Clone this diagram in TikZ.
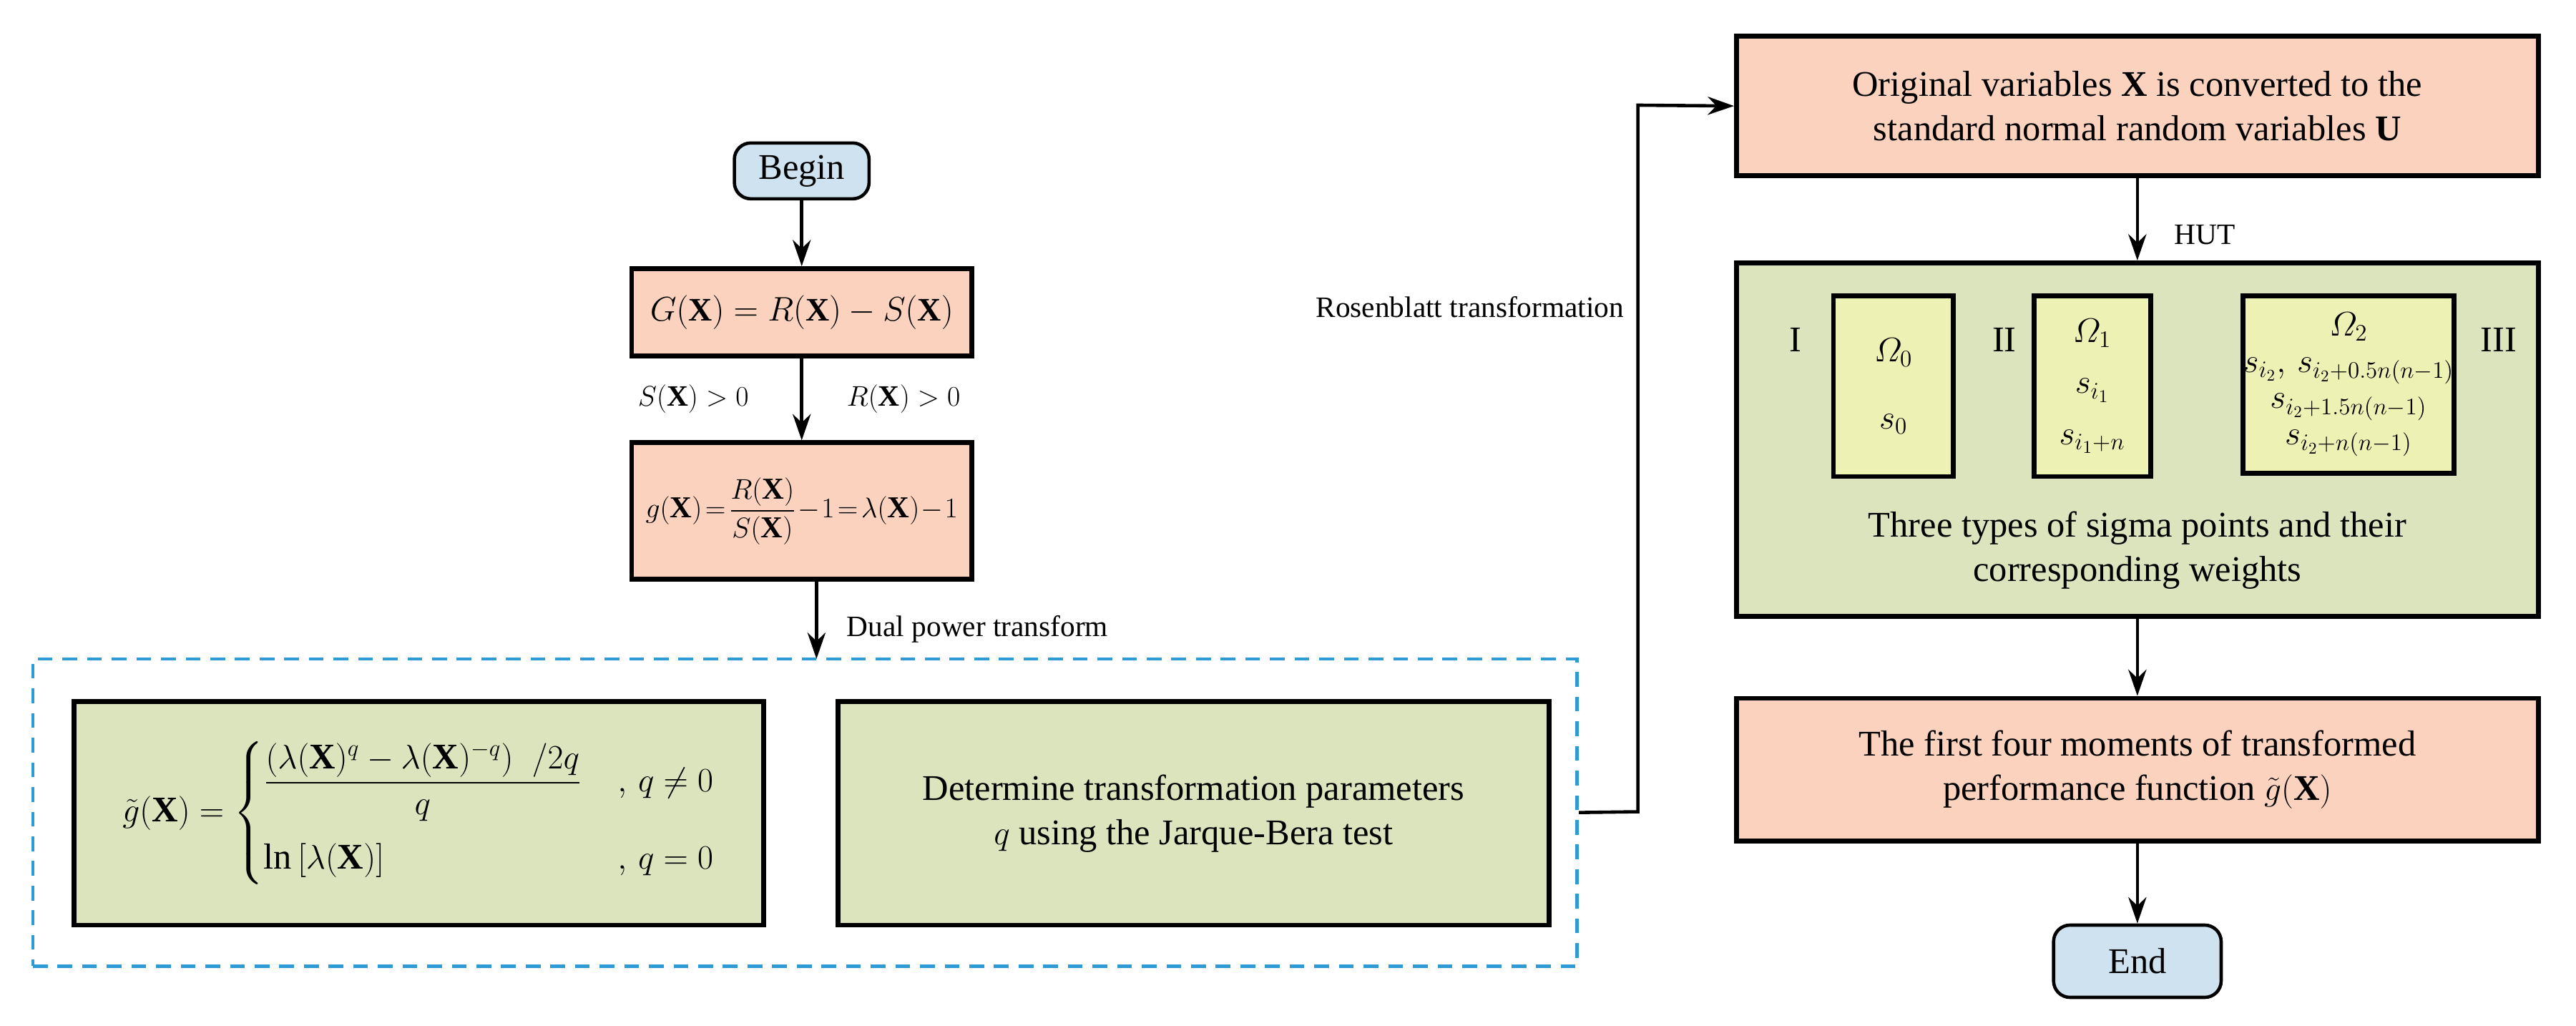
\documentclass[tikz,border=0pt]{standalone}
\usepackage{amsmath}
\usepackage{fontspec}
\setmainfont{Liberation Serif}
\usetikzlibrary{arrows.meta}
\definecolor{org}{HTML}{FAD2BE}
\definecolor{grn}{HTML}{DCE4BE}
\definecolor{ylw}{HTML}{EEF1B4}
\definecolor{blu}{HTML}{CFE2F0}
\definecolor{dash}{HTML}{2E9BD6}
\begin{document}
\begin{tikzpicture}[x=1pt,y=-1pt,
  font=\fontsize{22}{27}\selectfont,
  box/.style={draw,line width=3pt,align=center,inner sep=0pt},
  ob/.style={box,fill=org},
  gb/.style={box,fill=grn},
  yb/.style={box,fill=ylw},
  term/.style={draw,line width=2pt,rounded corners=10pt,fill=blu,align=center},
  arr/.style={-{Stealth[length=16pt,width=11pt]},line width=2pt},
  lab/.style={font=\fontsize{18}{22}\selectfont}]
\useasboundingbox (0,0) rectangle (1568,624);
% left column
\node[term,minimum width=82pt,minimum height=34pt] (begin) at (488,104) {Begin};
\node[ob,minimum width=207pt,minimum height=53pt,font=\fontsize{20}{24}\selectfont] (G) at (488,190) {$G(\mathbf{X})=R(\mathbf{X})-S(\mathbf{X})$};
\node[ob,minimum width=207pt,minimum height=83pt,font=\fontsize{18.5}{22}\selectfont] (g) at (488,311) {$g(\mathbf{X})\!=\!\dfrac{R(\mathbf{X})}{S(\mathbf{X})}\!-\!1\!=\!\lambda(\mathbf{X})\!-\!1$};
\node[draw=dash,dash pattern=on 9pt off 6pt,line width=2pt,minimum width=940pt,minimum height=187pt] (dual) at (490,494.5) {};
\node[gb,minimum width=420pt,minimum height=136pt,font=\fontsize{22}{26}\selectfont] (f) at (255,495)
 {$\tilde g(\mathbf{X})=\begin{cases}\dfrac{(\lambda(\mathbf{X})^{q}-\lambda(\mathbf{X})^{-q})\;\;/2q}{q} & ,\,q\neq0\\[16pt] \ln\left[\lambda(\mathbf{X})\right] & ,\,q=0\end{cases}$};
\node[gb,minimum width=433pt,minimum height=136pt] (det) at (726.5,495) {Determine transformation parameters\\ $q$ using the Jarque-Bera test};
\node[lab] (Sl) at (422,243) {$S(\mathbf{X})>0$};
\node[lab] (Rl) at (550,243) {$R(\mathbf{X})>0$};
\node[lab,anchor=west] (dl) at (512,383) {Dual power transform};
\draw[arr] (begin) -- (G);
\draw[arr] (G) -- (g);
\draw[arr] (g.south -| 497,0) -- (497,401);
% right column
\node[ob,minimum width=488pt,minimum height=85pt] (orig) at (1301,64.5) {Original variables $\mathbf{X}$ is converted to the\\ standard normal random variables $\mathbf{U}$};
\node[gb,minimum width=488pt,minimum height=215pt] (sig) at (1301,267.5) {};
\node[align=center] (sigt) at (1301,335) {Three types of sigma points and their\\ corresponding weights};
\node[yb,minimum width=73pt,minimum height=110pt] (b1) at (1152.5,235) {$\varOmega_0$\\[14pt] $s_0$};
\node[yb,minimum width=71pt,minimum height=110pt] (b2) at (1273.5,235) {$\varOmega_1$\\[4pt] $s_{i_1}$\\[4pt] $s_{i_1+n}$};
\node[yb,minimum width=127pt,minimum height=108pt,font=\fontsize{20}{22}\selectfont] (b3) at (1429.5,234) {$\varOmega_2$\\ $s_{i_2},\,s_{i_2+0.5n(n-1)}$\\ $s_{i_2+1.5n(n-1)}$\\ $s_{i_2+n(n-1)}$};
\node (I) at (1093,207) {I};
\node (II) at (1220,207) {II};
\node (III) at (1521,207) {III};
\node[ob,minimum width=488pt,minimum height=87pt] (mom) at (1301,468.5) {The first four moments of transformed\\ performance function $\tilde g(\mathbf{X})$};
\node[term,minimum width=102pt,minimum height=44pt] (end) at (1301,585) {End};
\node[lab] (hut) at (1342,143) {HUT};
\node[lab,anchor=east] (rl) at (992,187) {Rosenblatt transformation};
\draw[arr] (orig) -- (sig);
\draw[arr] (sig) -- (mom);
\draw[arr] (mom) -- (end);
\draw[arr] (dual.east) -- (997,494) -- (997,64) -- (orig.west);
\end{tikzpicture}
\end{document}
